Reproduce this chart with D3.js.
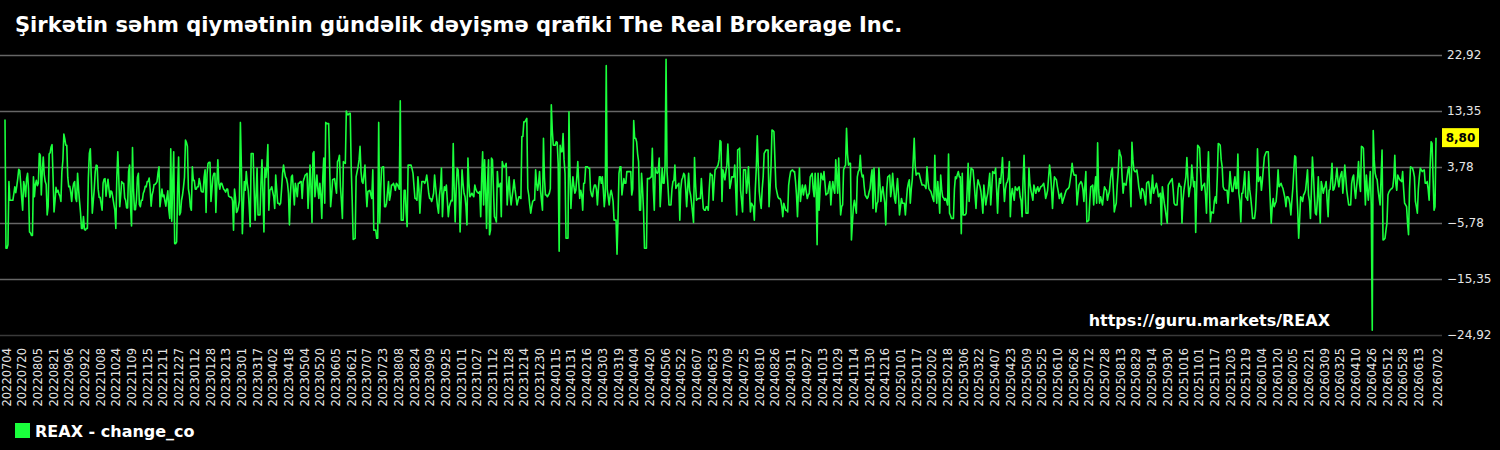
<!DOCTYPE html>
<html><head><meta charset="utf-8">
<script src="https://cdn.jsdelivr.net/npm/d3@7"></script>
<style>html,body{margin:0;padding:0;background:#000;} svg{display:block;font-family:"DejaVu Sans",sans-serif;}</style>
</head><body><svg id="chart" width="1500" height="450"></svg>
<script>
const chartTitle = "Şirkətin səhm qiymətinin gündəlik dəyişmə qrafiki The Real Brokerage Inc.";
const seriesName = "REAX - change_co";
const watermark = "https://guru.markets/REAX";
const startDate = "20220704";
const endDate = "20260702";
const tickLabels = ["20220704","20220720","20220805","20220821","20220906","20220922","20221008","20221024","20221109","20221125","20221211","20221227",
"20230112","20230128","20230213","20230301","20230317","20230402","20230418","20230504","20230520","20230605","20230621","20230707","20230723","20230808","20230824","20230909","20230925","20231011","20231027","20231112","20231128","20231214","20231230",
"20240115","20240131","20240216","20240303","20240319","20240404","20240420","20240506","20240522","20240607","20240623","20240709","20240725","20240810","20240826","20240911","20240927","20241013","20241029","20241114","20241130","20241216",
"20250101","20250117","20250202","20250218","20250306","20250322","20250407","20250423","20250509","20250525","20250610","20250626","20250712","20250728","20250813","20250829","20250914","20250930","20251016","20251101","20251117","20251203","20251219",
"20260104","20260120","20260205","20260221","20260309","20260325","20260410","20260426","20260512","20260528","20260613","20260702"];
const yTickValues = [22.92, 13.35, 3.78, -5.78, -15.35, -24.92];
const changeValues = [
11.9,-10.1,-10.1,-9.5,1.3,-1.9,-1.9,-1.9,-1.9,-0.8,
0.4,-0.6,0.5,1.8,3.4,3.2,1.0,-1.5,-3.6,1.3,
0.5,-1.3,1.8,2.7,0.0,-7.3,-7.5,-7.9,-7.9,2.1,
-1.3,0.8,1.5,0.6,1.0,6.1,5.8,-1.0,3.0,5.5,
2.5,1.3,0.8,-4.4,-3.0,6.0,6.2,7.2,7.6,2.0,
-3.9,-2.0,0.3,-0.5,-0.2,-0.8,-1.2,-2.1,3.0,4.9,
9.4,8.6,7.5,7.5,2.0,0.4,0.5,-0.5,-2.1,0.0,
1.0,1.3,-1.5,-2.1,2.7,0.0,-2.1,-4.0,-6.7,-6.7,
-4.7,-6.9,-7.0,-6.7,-6.7,2.0,6.1,6.9,2.0,-4.1,
-2.0,0.0,3.0,4.1,4.0,0.0,-1.4,-1.4,-2.5,-3.6,
1.0,1.7,1.8,-1.2,0.5,1.7,0.0,-1.4,-0.3,-0.5,
-1.5,-2.6,-3.6,-6.7,2.0,6.4,2.0,-3.0,-1.0,1.3,
1.0,1.0,-1.5,-1.9,-3.2,-3.2,3.0,4.1,-3.0,-6.3,
7.1,0.0,-3.5,-3.5,-1.9,2.0,2.7,-2.6,-3.0,-1.9,
-1.9,-0.7,-0.3,0.5,0.4,1.3,1.3,1.9,0.0,-2.9,
-1.0,-0.3,0.8,0.8,1.0,1.3,2.8,3.8,-3.0,-1.5,
0.0,-1.3,-1.0,-2.0,-2.9,-1.5,-0.3,-3.5,-5.0,6.9,
-5.5,1.0,6.4,-9.3,-9.3,-9.0,0.0,5.5,-4.4,-4.0,
-1.9,-1.0,0.4,2.0,8.4,8.0,7.3,0.0,-1.0,-3.0,
-3.6,3.8,1.5,1.5,0.0,0.0,0.4,0.4,1.8,1.0,
-0.3,-0.5,-0.5,2.0,3.3,-4.0,2.5,4.4,4.6,4.6,
-2.1,0.0,2.1,2.7,2.7,-4.0,1.0,5.0,1.0,0.0,
1.0,1.0,0.5,0.0,-0.2,-0.5,0.0,0.0,-1.2,-1.3,
-1.4,-1.4,-2.0,-7.0,0.0,-1.5,-4.0,-3.7,-3.0,-2.0,
11.4,4.1,-7.6,-3.0,1.3,-0.2,3.0,1.0,-0.2,-3.0,
-6.4,6.1,6.1,6.1,0.0,-5.3,-1.0,3.6,-4.4,-4.4,
-4.4,1.0,5.0,-1.0,-7.3,3.6,2.0,3.8,7.6,-3.6,
-0.2,0.0,0.4,-0.5,-1.3,-3.3,2.4,0.0,-2.4,-2.4,
-2.7,-2.4,0.0,2.7,4.1,3.0,2.1,1.8,1.0,-0.7,
-6.1,-1.0,2.1,2.4,0.0,-2.7,1.0,0.0,-1.3,1.0,
1.0,1.3,1.3,-1.6,1.3,1.8,2.4,2.5,2.7,-3.3,
0.0,4.1,0.0,-5.7,6.1,6.4,-1.3,0.5,2.4,0.0,
-1.6,1.0,-1.0,-5.0,2.0,5.3,-2.4,11.4,11.2,11.2,
11.2,3.8,-3.0,-1.0,1.6,1.7,1.8,0.5,-0.7,4.7,
5.0,5.8,0.4,-2.0,-5.0,4.7,4.5,4.4,13.35,12.7,
12.7,12.95,12.95,3.6,-2.0,-8.6,-8.5,-8.4,2.1,3.0,
3.8,5.0,7.3,3.0,1.3,1.0,2.5,4.1,0.0,-3.0,
-0.4,-0.3,-0.2,-1.0,-1.6,3.3,-7.0,-7.0,-7.0,-8.4,
-8.4,11.4,-5.8,0.0,3.6,3.8,3.8,-3.0,-3.0,-2.4,
-0.5,1.3,-1.9,-1.0,0.7,0.7,1.0,0.5,-0.2,1.0,
0.8,0.4,0.0,15.1,-5.3,-5.3,-5.3,-0.2,-0.2,-4.0,
-6.4,4.1,4.1,4.1,4.1,3.5,2.7,0.5,-1.6,-1.6,
-1.9,2.1,0.0,-4.1,-1.0,1.3,1.3,1.3,1.0,1.5,
2.4,1.0,-0.7,-1.6,-1.6,-2.1,-1.5,-0.7,2.4,0.5,
-1.3,-3.0,-4.1,-1.0,0.4,3.6,-4.7,-1.0,0.4,-0.2,
0.7,-2.0,-4.7,-3.0,-2.4,-1.9,-2.0,7.8,0.0,-5.6,
0.0,3.6,3.3,0.0,-7.3,-2.0,3.3,1.0,-0.7,-1.3,
-3.0,-6.1,5.3,1.0,-1.3,-1.0,-0.7,-1.0,-1.3,0.7,
0.0,-0.4,-0.6,-0.7,-0.4,
-4.7,2.0,6.4,-2.7,5.0,0.0,-6.7,1.0,5.0,-7.8,
-7.0,5.3,5.0,0.0,-4.7,-5.0,-5.6,3.0,0.4,0.5,
1.0,-4.7,4.7,4.0,3.8,4.0,4.4,-2.7,0.0,2.1,
-1.0,-2.7,-1.3,0.0,1.6,0.0,-1.3,-2.7,-2.0,-1.3,
-1.3,-1.6,9.0,9.0,11.5,11.5,11.8,12.1,0.1,-1.0,
-2.7,-4.1,-3.0,-2.1,-1.9,-1.9,3.3,1.0,-0.2,1.0,
3.0,-0.2,-2.0,-3.6,8.7,2.0,-1.0,-1.0,-1.3,-1.0,
-0.7,0.1,14.4,10.0,7.5,7.5,7.5,8.1,8.0,4.4,
-10.6,7.5,6.4,6.4,9.5,5.0,2.7,-8.4,-8.4,-8.4,
13.2,3.0,-3.3,0.0,2.1,0.5,-0.7,-0.2,2.0,4.7,
1.0,-1.6,-0.2,-1.0,-3.6,1.0,1.0,3.8,3.8,3.8,
3.6,3.6,-0.2,-1.0,-1.3,0.0,0.7,0.7,0.0,-2.7,
0.0,2.1,2.1,1.0,2.1,0.0,-3.0,-1.0,21.1,0.0,
-1.3,-2.7,-1.0,-0.2,-1.0,-2.1,-5.3,-5.3,-5.3,-11.1,
-5.0,2.7,3.8,3.8,-1.0,0.5,1.8,1.0,1.0,3.0,
3.0,3.0,3.0,3.0,-1.0,0.0,11.7,8.7,8.7,8.1,
6.0,4.7,-3.6,-3.6,2.7,0.0,-3.6,-10.1,-10.1,-10.1,
1.8,1.8,1.8,2.0,2.1,7.0,0.0,-3.6,3.6,3.0,
2.7,3.0,5.3,-3.0,0.0,3.6,1.0,1.0,4.1,22.2,
3.0,0.4,-2.7,-2.7,-2.7,0.0,1.3,1.5,4.1,0.1,
0.5,0.7,1.0,-5.3,0.0,1.6,2.0,2.7,2.4,0.0,
-3.0,0.0,2.7,-0.2,-1.0,-2.4,-4.0,-5.7,5.4,1.0,
-1.9,-1.7,-1.6,-1.6,-1.6,1.8,-1.0,-3.3,-3.6,-3.6,
-3.0,-3.0,-3.6,0.0,2.7,2.4,2.4,-1.9,1.0,3.3,
3.5,3.8,4.1,5.0,8.3,
8.1,-2.1,3.3,2.5,1.6,3.0,4.1,7.7,4.0,0.1,
1.0,2.1,2.1,2.1,4.1,0.0,-4.4,6.7,6.8,7.0,
-0.2,-2.0,-3.9,3.3,3.3,3.3,-0.7,1.0,3.8,0.0,
-3.9,-2.4,-2.7,-3.0,-5.3,0.0,3.6,9.1,4.0,-0.4,
-2.0,-3.3,0.0,2.1,6.1,6.4,6.7,6.7,6.7,-3.0,
0.0,3.8,10.1,10.0,9.8,5.0,0.4,-0.5,-1.3,-1.6,
-1.6,-1.9,-3.0,-4.7,-2.4,-3.0,-3.6,-3.6,-3.9,0.7,
2.0,3.0,3.2,3.3,3.0,3.0,1.3,-1.0,-4.7,0.0,
3.6,-2.1,-0.5,0.7,-1.0,0.0,0.7,-0.5,-1.6,-1.0,
-0.7,2.1,2.4,2.7,0.0,-1.3,2.7,0.0,-9.5,2.7,
-3.6,0.0,2.7,2.0,1.6,3.0,1.0,-1.0,-0.8,-0.7,
0.5,1.3,-2.7,0.0,1.3,0.0,-0.7,5.0,2.0,-0.7,
5.3,0.0,-4.4,-3.0,-2.7,3.3,3.8,4.1,10.4,6.0,
4.1,4.4,4.4,-8.7,-5.8,-3.0,-1.9,-3.0,-4.1,2.1,
3.0,3.3,5.8,3.0,2.1,2.4,0.5,-1.0,-1.3,-1.6,
-1.3,-0.5,0.1,2.0,3.3,-3.3,3.6,0.0,-3.9,-2.5,
-2.1,3.6,1.0,-2.1,-0.5,0.4,-1.0,-2.4,-6.1,0.0,
2.1,2.2,2.4,-1.3,0.0,2.7,0.5,-1.6,-2.4,0.0,
1.8,-1.0,-4.4,-3.0,-1.6,-2.4,-2.4,-2.4,-4.4,-2.0,
0.1,1.0,1.6,-2.4,0.0,1.6,5.0,8.7,4.0,2.4,
2.7,2.7,2.7,2.0,1.3,0.7,0.7,0.7,0.5,0.1,
3.8,1.5,0.1,-0.2,-0.4,-1.0,-1.6,-2.1,5.8,0.0,
-2.4,1.3,-1.0,-4.1,2.4,0.0,-1.3,-1.5,-1.9,-1.6,
-2.0,-2.7,6.0,-4.1,-4.5,-5.0,-5.0,-5.0,0.0,2.1,
1.8,2.5,3.0,2.1,2.1,
-7.6,2.7,-4.4,-4.4,-4.4,-4.1,0.0,4.4,-2.1,1.0,
3.6,3.4,3.3,1.3,-1.0,-3.3,0.0,1.6,1.0,0.5,
-0.4,-2.0,-4.1,0.7,-1.0,-2.7,-1.5,-0.7,1.0,2.7,
-2.7,0.0,3.0,2.8,2.7,3.6,0.0,-4.1,0.0,1.8,
1.0,3.0,5.4,1.0,-2.1,0.0,1.0,1.3,2.0,4.7,
-4.7,-1.0,0.1,-1.0,-1.9,0.4,0.0,-0.2,0.2,0.4,
-1.3,-2.0,-4.7,1.6,5.8,0.0,-4.1,-4.1,-4.1,3.6,
1.0,-0.2,-1.0,-1.9,0.7,0.0,-0.7,0.0,0.4,-0.4,
0.0,0.4,0.5,0.7,1.0,0.0,-1.6,-1.0,-0.2,2.0,
4.1,2.7,0.0,-3.3,0.0,2.1,1.8,1.6,0.4,-0.5,
-1.6,-1.0,-0.7,-2.4,-1.8,-1.3,-0.7,-0.2,0.0,0.1,
0.4,1.5,2.7,4.4,3.0,2.4,2.4,2.4,-2.7,-1.0,
0.7,1.0,1.3,1.0,0.0,-2.1,0.5,3.0,-5.6,-5.5,
-5.3,-2.0,0.4,0.5,0.7,-2.7,0.0,2.1,-2.4,7.9,
0.0,-2.4,-1.3,-2.0,-2.7,-1.0,0.4,0.0,-0.2,-1.9,
-1.0,-0.4,1.5,3.0,3.6,0.0,-3.9,-3.0,-2.4,0.7,
3.0,6.7,6.0,5.5,2.0,-0.7,1.0,0.8,0.7,2.0,
3.3,3.8,1.0,-3.0,8.0,5.0,3.3,3.0,3.0,3.3,
2.0,0.4,-0.5,-1.6,0.1,0.0,-0.4,-1.5,-2.7,1.0,
1.2,1.3,0.0,-2.4,0.0,2.4,-0.7,0.0,0.4,1.0,
0.0,-1.3,-1.0,-0.7,-6.1,0.4,-1.0,-2.4,-3.5,-4.7,
-5.8,0.7,1.0,1.3,1.5,1.8,0.0,-2.4,-2.7,-2.7,
-2.7,0.0,1.0,0.5,0.4,-5.8,-2.0,-0.2,1.0,2.1,
5.4,2.0,-1.3,0.0,0.7,4.1,2.0,0.4,1.3,-7.4,
0.0,7.5,7.3,7.0,
3.0,-0.2,0.5,0.7,1.0,-1.0,-4.1,2.0,6.4,0.0,
-5.6,-3.9,-4.0,-4.1,-2.0,-1.3,-2.4,2.0,7.8,7.7,
7.5,5.0,3.8,0.4,0.0,-0.2,-0.2,-0.2,-2.4,0.0,
3.0,1.0,-0.4,-0.4,1.0,2.1,0.1,0.1,6.0,-0.7,
-2.0,-5.6,-0.7,-0.7,1.0,3.0,-1.3,-1.5,-1.9,3.0,
0.0,-1.3,-3.0,-5.0,-5.0,-5.0,-3.6,0.0,6.9,1.3,
1.8,2.1,-0.2,1.5,3.6,5.5,6.0,6.4,6.4,6.4,
2.1,-2.0,-5.8,-3.0,-1.6,-3.0,-2.5,-2.1,0.0,3.3,
0.4,0.7,1.0,0.5,0.1,-0.7,-1.5,-3.0,-1.3,-1.3,
-1.6,-2.5,-4.4,-2.0,0.1,3.0,5.7,5.5,0.0,-3.6,
-8.4,-5.0,-1.3,-1.5,-2.1,-1.0,-0.7,-0.2,1.5,3.3,
-1.0,-2.0,-5.0,0.0,5.5,2.7,-1.0,-4.1,-4.4,-2.0,
2.1,-2.0,-5.8,1.3,0.5,-0.7,0.1,0.5,1.3,-2.0,
-4.7,-0.2,0.0,2.0,4.4,-0.2,0.0,0.7,2.0,3.6,
1.5,0.4,1.8,2.5,3.0,-0.7,1.5,4.1,2.0,-0.2,
-1.5,-2.7,-2.7,-2.7,1.0,2.0,2.4,0.0,-1.6,0.4,
2.0,4.7,1.0,-0.4,7.3,7.2,7.0,2.0,-2.7,2.4,
0.0,-1.9,0.5,3.0,-2.7,-24.1,10.0,5.0,2.7,2.0,
1.6,-0.2,-1.5,-2.7,2.0,6.7,-8.7,-8.6,-8.4,-7.0,
-5.8,-1.0,-0.5,-0.2,0.0,0.1,0.4,2.0,5.8,1.0,
-0.2,2.4,2.0,1.6,1.5,1.3,3.0,0.0,-2.4,-2.7,
-3.0,-5.8,-7.8,0.0,3.8,3.7,3.6,3.0,2.1,-2.1,
-3.0,-4.1,0.0,2.1,3.6,3.3,3.0,3.2,3.3,1.0,
1.0,1.3,0.0,-1.9,4.0,8.1,7.8,2.0,-3.6,-3.0,
8.8
];

const lineColor = "#1aff3c";
const svg = d3.select("#chart");
const parse = d3.utcParse("%Y%m%d");
const t0 = parse(startDate), t1 = parse(endDate);
const points = changeValues.map((v, i) => ({date: d3.utcDay.offset(t0, i), value: v}));
const x = d3.scaleUtc().domain([t0, t1]).range([5, 1436]);
const y = d3.scaleLinear().domain([-24.92, 22.92]).range([335, 55]);
const fmt = v => d3.format(".2f")(v).replace(".", ",");

svg.append("rect").attr("width", 1500).attr("height", 450).attr("fill", "#000");

// grid
svg.append("g").selectAll("line").data(yTickValues).join("line")
  .attr("x1", 0).attr("x2", 1442)
  .attr("y1", d => Math.round(y(d)) + 0.5).attr("y2", d => Math.round(y(d)) + 0.5)
  .attr("stroke", (d, i) => i === yTickValues.length - 1 ? "#3a3a3a" : "#666")
  .attr("stroke-width", 1.5);

// y labels
svg.append("g").selectAll("text").data(yTickValues).join("text")
  .attr("x", 1447).attr("y", d => y(d)).attr("dy", "0.35em")
  .attr("fill", "#e6e6e6").attr("font-size", "12px").text(d => fmt(d));

// x labels
svg.append("g").selectAll("text").data(tickLabels).join("text")
  .attr("transform", d => `translate(${x(parse(d)) + 1.5},348) rotate(-90)`)
  .attr("text-anchor", "end").attr("dy", "0.35em")
  .attr("fill", "#e6e6e6").attr("font-size", "11.5px").text(d => d);

// line
svg.append("path").datum(points)
  .attr("fill", "none").attr("stroke", lineColor).attr("stroke-width", 1.6)
  .attr("stroke-linejoin", "round")
  .attr("d", d3.line().x(d => x(d.date)).y(d => y(d.value)));

// last value tag
const last = points[points.length - 1];
svg.append("rect").attr("x", 1442).attr("y", y(last.value) - 9.5).attr("width", 37).attr("height", 19).attr("fill", "#ffff00");
svg.append("text").attr("x", 1460.5).attr("y", y(last.value)).attr("dy", "0.36em").attr("text-anchor", "middle")
  .attr("font-weight", "bold").attr("font-size", "12px").attr("fill", "#000").text(fmt(last.value));

// title
svg.append("text").attr("x", 15).attr("y", 32).attr("fill", "#fff").attr("font-weight", "bold").attr("font-size", "21px").text(chartTitle);

// watermark
svg.append("text").attr("x", 1330).attr("y", 326).attr("text-anchor", "end").attr("fill", "#fff").attr("font-weight", "bold").attr("font-size", "16px").text(watermark);

// legend
svg.append("rect").attr("x", 15).attr("y", 423).attr("width", 15).attr("height", 15).attr("fill", lineColor);
svg.append("text").attr("x", 35).attr("y", 437).attr("fill", "#fff").attr("font-weight", "bold").attr("font-size", "16px").text(seriesName);
</script></body></html>
